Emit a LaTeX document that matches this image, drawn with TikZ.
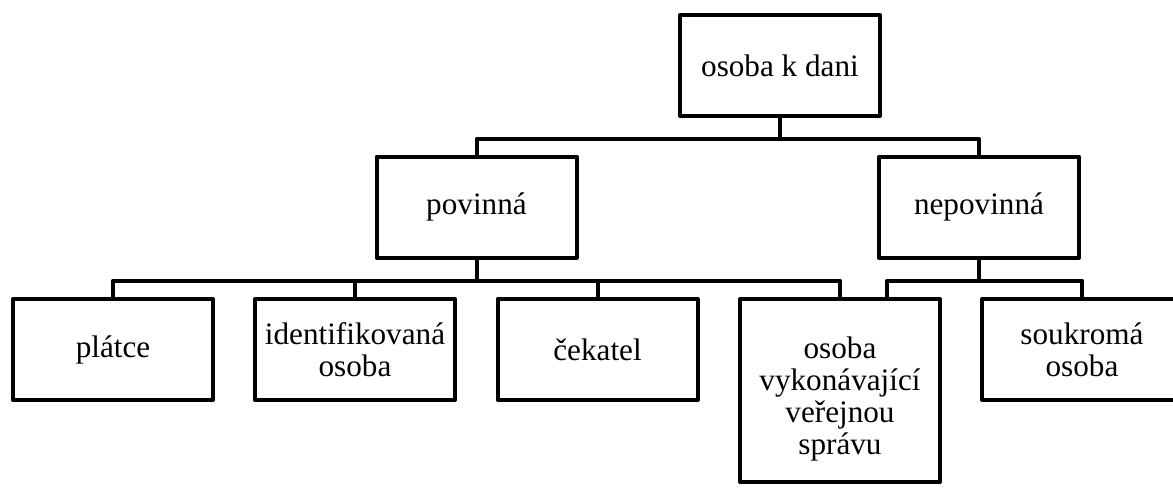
\documentclass[tikz,border=0pt]{standalone}
\usepackage{fontspec}
\setmainfont{Liberation Serif}
\usetikzlibrary{calc}
\tikzset{
  label text/.style={align=center, inner sep=0pt,
    font=\fontsize{15.6}{16}\selectfont},
  box/.style={draw, line width=2pt, line join=round, inner sep=0pt,
    minimum width=100pt, minimum height=50.5pt, label text},
  tallbox/.style={box, minimum height=91.5pt},
  link/.style={line width=2pt, line join=round}
}
\begin{document}
\begin{tikzpicture}[x=0.5pt,y=-0.5pt]
  \clip (0,0) rectangle (1173,488);
  \fill[white] (0,0) rectangle (1173,488);

  % levels of the tree
  \node[box] (top)  at (780,65.5)  {osoba k dani};
  \node[box] (pov)  at (476.5,207) {povinná};
  \node[box] (nep)  at (979,207)   {nepovinná};
  \node[box] (plat) at (113,349.5) {plátce};
  \node[box] (iden) at (355,349.5) {identifikovaná\\osoba};
  \node[box] (ceka) at (597.5,349.5) {čekatel};
  \node[tallbox] (vyk) at (840,390.5) {};
  \node[label text] (vyktext) at ($(vyk.center)+(0,8)$)
    {osoba\\vykonávající\\veřejnou\\správu};
  \node[box] (souk) at (1082,349.5) {soukromá\\osoba};

  % root to first level
  \draw[link] (top.south) -- ++(0,21) -| (pov.north);
  \draw[link] (top.south) ++(0,21) -| (nep.north);

  % povinná to its children
  \draw[link] (pov.south) -- ++(0,21) -| (plat.north);
  \draw[link] (pov.south) ++(0,21) -| (iden.north);
  \draw[link] (pov.south) ++(0,21) -| (ceka.north);
  \draw[link] (pov.south) ++(0,21) -| (vyk.north);

  % nepovinná to its children
  \draw[link] (nep.south) -- ++(0,21) -| ($(vyk.north)+(47,0)$);
  \draw[link] (nep.south) ++(0,21) -| (souk.north);
\end{tikzpicture}
\end{document}
